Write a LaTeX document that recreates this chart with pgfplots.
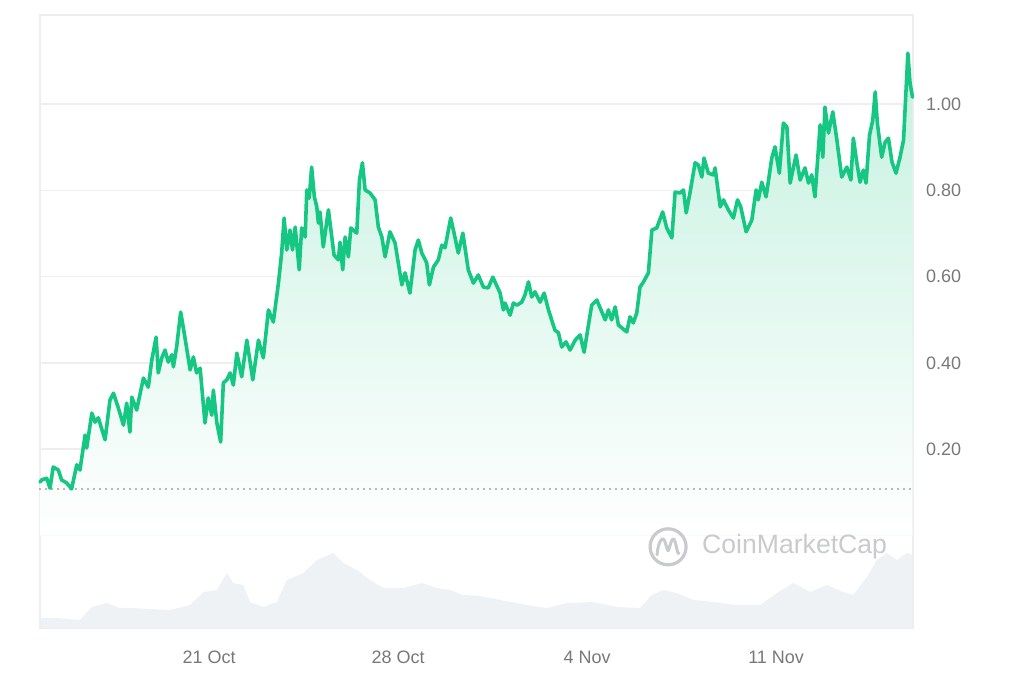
\documentclass[border=0pt]{standalone}
\usepackage{fontspec}
\setmainfont{Liberation Sans}
\usepackage{pgfplots}
\usepackage{pgfplotstable}
\pgfplotsset{compat=1.18}
\definecolor{cmcgreen}{RGB}{22,199,132}
\definecolor{gridgray}{RGB}{236,238,240}
\definecolor{labelgray}{RGB}{120,120,120}
\definecolor{volgray}{RGB}{239,242,245}
\definecolor{wmgray}{RGB}{200,202,206}

\pgfplotstableread{
d p
14.74 0.124
14.80 0.129
14.99 0.133
15.11 0.110
15.23 0.159
15.42 0.152
15.54 0.129
15.73 0.122
15.91 0.108
16.10 0.164
16.22 0.152
16.41 0.233
16.47 0.203
16.66 0.284
16.78 0.263
16.90 0.273
17.15 0.222
17.33 0.314
17.46 0.330
17.64 0.296
17.83 0.256
17.95 0.307
18.07 0.240
18.14 0.321
18.32 0.291
18.57 0.365
18.75 0.344
18.88 0.407
19.04 0.460
19.12 0.377
19.25 0.412
19.37 0.430
19.49 0.402
19.62 0.419
19.68 0.391
19.80 0.437
19.95 0.518
20.11 0.458
20.30 0.384
20.42 0.414
20.54 0.377
20.67 0.388
20.85 0.261
20.97 0.319
21.10 0.279
21.16 0.337
21.29 0.261
21.43 0.217
21.53 0.354
21.66 0.361
21.78 0.377
21.90 0.349
22.03 0.423
22.21 0.368
22.40 0.453
22.62 0.361
22.83 0.453
23.01 0.412
23.20 0.523
23.38 0.495
23.57 0.585
23.69 0.655
23.78 0.736
23.88 0.662
24.00 0.708
24.09 0.662
24.19 0.715
24.34 0.616
24.43 0.713
24.56 0.692
24.62 0.801
24.71 0.782
24.80 0.854
24.90 0.785
24.99 0.762
25.05 0.724
25.11 0.750
25.23 0.669
25.42 0.755
25.63 0.650
25.79 0.639
25.85 0.680
25.95 0.616
26.04 0.692
26.16 0.646
26.25 0.713
26.47 0.701
26.57 0.824
26.68 0.864
26.78 0.801
26.96 0.794
27.15 0.778
27.27 0.715
27.40 0.692
27.52 0.646
27.70 0.704
27.89 0.678
28.14 0.581
28.26 0.609
28.44 0.562
28.63 0.662
28.75 0.685
28.88 0.655
29.06 0.632
29.16 0.581
29.31 0.622
29.49 0.639
29.62 0.673
29.74 0.667
29.95 0.736
30.05 0.708
30.23 0.655
30.40 0.701
30.60 0.616
30.79 0.585
30.97 0.604
31.16 0.576
31.34 0.574
31.51 0.599
31.78 0.562
31.90 0.523
31.96 0.539
32.15 0.511
32.27 0.539
32.40 0.534
32.58 0.541
32.70 0.558
32.83 0.588
32.95 0.553
33.07 0.565
33.26 0.541
33.41 0.562
33.57 0.523
33.81 0.476
33.94 0.470
34.06 0.437
34.22 0.449
34.37 0.430
34.56 0.453
34.74 0.465
34.89 0.425
35.01 0.472
35.17 0.534
35.36 0.546
35.67 0.500
35.79 0.523
35.91 0.500
36.04 0.530
36.16 0.488
36.47 0.472
36.59 0.507
36.71 0.493
36.84 0.516
36.96 0.576
37.09 0.588
37.27 0.609
37.40 0.708
37.58 0.713
37.80 0.750
37.95 0.713
38.14 0.690
38.26 0.796
38.44 0.794
38.57 0.801
38.67 0.748
38.81 0.794
39.00 0.864
39.12 0.859
39.25 0.831
39.33 0.875
39.49 0.840
39.68 0.836
39.74 0.852
39.93 0.762
40.05 0.778
40.23 0.755
40.42 0.736
40.57 0.778
40.69 0.762
40.89 0.704
41.10 0.731
41.26 0.801
41.34 0.778
41.47 0.819
41.63 0.785
41.84 0.875
41.96 0.901
42.12 0.840
42.27 0.956
42.40 0.947
42.52 0.817
42.74 0.882
42.89 0.824
43.07 0.852
43.20 0.817
43.32 0.836
43.44 0.785
43.63 0.952
43.73 0.877
43.81 0.993
43.94 0.933
44.10 0.982
44.25 0.917
44.43 0.831
44.62 0.854
44.77 0.824
44.86 0.921
44.99 0.864
45.11 0.819
45.23 0.847
45.33 0.817
45.46 0.928
45.58 0.963
45.67 1.028
45.75 0.956
45.91 0.877
46.04 0.912
46.16 0.921
46.29 0.866
46.44 0.840
46.59 0.877
46.72 0.917
46.88 1.118
46.96 1.049
47.05 1.016
}\price

\pgfplotstableread{
d v
14.74 10
15.36 10
16.22 8
16.66 21
17.21 25
17.70 20
18.07 20
18.81 19
19.56 18
20.30 23
20.79 36
21.29 38
21.66 55
21.90 45
22.27 43
22.52 26
23.01 21
23.51 26
23.88 48
24.49 55
24.99 68
25.60 75
25.97 65
26.47 58
26.96 48
27.46 40
28.20 40
28.88 45
29.43 40
29.93 38
30.42 33
31.04 32
31.78 28
32.77 23
33.51 20
34.25 25
35.23 26
36.10 21
36.96 20
37.40 33
37.83 38
38.32 35
38.94 28
39.68 26
40.54 23
41.41 23
42.03 35
42.64 45
43.26 36
43.88 43
44.49 36
44.86 33
45.36 51
45.73 68
46.10 75
46.47 68
46.84 75
47.07 73
}\volume

\begin{document}
\begin{tikzpicture}
\path[use as bounding box] (0,0) rectangle (512pt,341.5pt);
% volume panel
\begin{axis}[
  at={(20pt,27.5pt)}, anchor=south west,
  scale only axis, width=436.5pt, height=46pt,
  xmin=14.74, xmax=47.07, ymin=0, ymax=92,
  hide axis,
]
\addplot[draw=none, fill=volgray] table[x=d,y=v] {\volume} \closedcycle;
\end{axis}
% price panel
\begin{axis}[
  at={(20pt,27.5pt)}, anchor=south west,
  scale only axis, width=436.5pt, height=306.5pt,
  xmin=14.74, xmax=47.07, ymin=-0.2141, ymax=1.2065,
  xtick={21,28,35,42},
  xticklabels={21 Oct,28 Oct,4 Nov,11 Nov},
  ytick={0.2,0.4,0.6,0.8,1.0},
  extra y ticks={0},
  extra y tick labels={},
  extra y tick style={grid=major},
  ymajorgrids,
  grid style={color=gridgray, line width=0.8pt},
  axis line style={color=gridgray, line width=0.8pt},
  major tick length=0pt,
  yticklabel pos=right,
  tick label style={font=\fontsize{9}{10}\selectfont, color=labelgray},
  xticklabel style={yshift=-8pt},
  yticklabel style={xshift=3pt, /pgf/number format/.cd, fixed, fixed zerofill, precision=2},
  /pgf/number format/assume math mode=true,
  clip=false,
]
\addplot[draw=none, shading=axis, top color=cmcgreen!25, bottom color=white] table[x=d,y=p] {\price} \closedcycle;
\addplot[color=black!55, line width=0.8pt, line cap=round, dash pattern=on 0pt off 3pt] coordinates {(14.74,0.108) (47.07,0.108)};
\addplot[color=cmcgreen, line width=1.8pt, line join=round, line cap=round] table[x=d,y=p] {\price};
% watermark
\draw[wmgray, line width=1.6pt] (axis cs:38.0,-0.026) circle[radius=9pt];
\draw[wmgray, line width=1.5pt, line join=round, line cap=round]
  ([xshift=-5.5pt,yshift=-4pt]axis cs:38.0,-0.026) .. controls +(0.5pt,6pt) and +(-1pt,0pt) .. ([xshift=-2.5pt,yshift=4pt]axis cs:38.0,-0.026)
  .. controls +(1pt,0pt) and +(-0.5pt,0pt) .. ([xshift=0pt,yshift=-2pt]axis cs:38.0,-0.026)
  .. controls +(0.5pt,0pt) and +(-1pt,0pt) .. ([xshift=2.5pt,yshift=4pt]axis cs:38.0,-0.026)
  .. controls +(1.5pt,0pt) and +(-1pt,-2pt) .. ([xshift=5.5pt,yshift=-3pt]axis cs:38.0,-0.026);
\node[anchor=west, inner sep=0pt, text=wmgray, font=\fontsize{13.3}{14}\selectfont] at (axis cs:39.25,-0.026) {CoinMarketCap};
\end{axis}
\end{tikzpicture}
\end{document}
